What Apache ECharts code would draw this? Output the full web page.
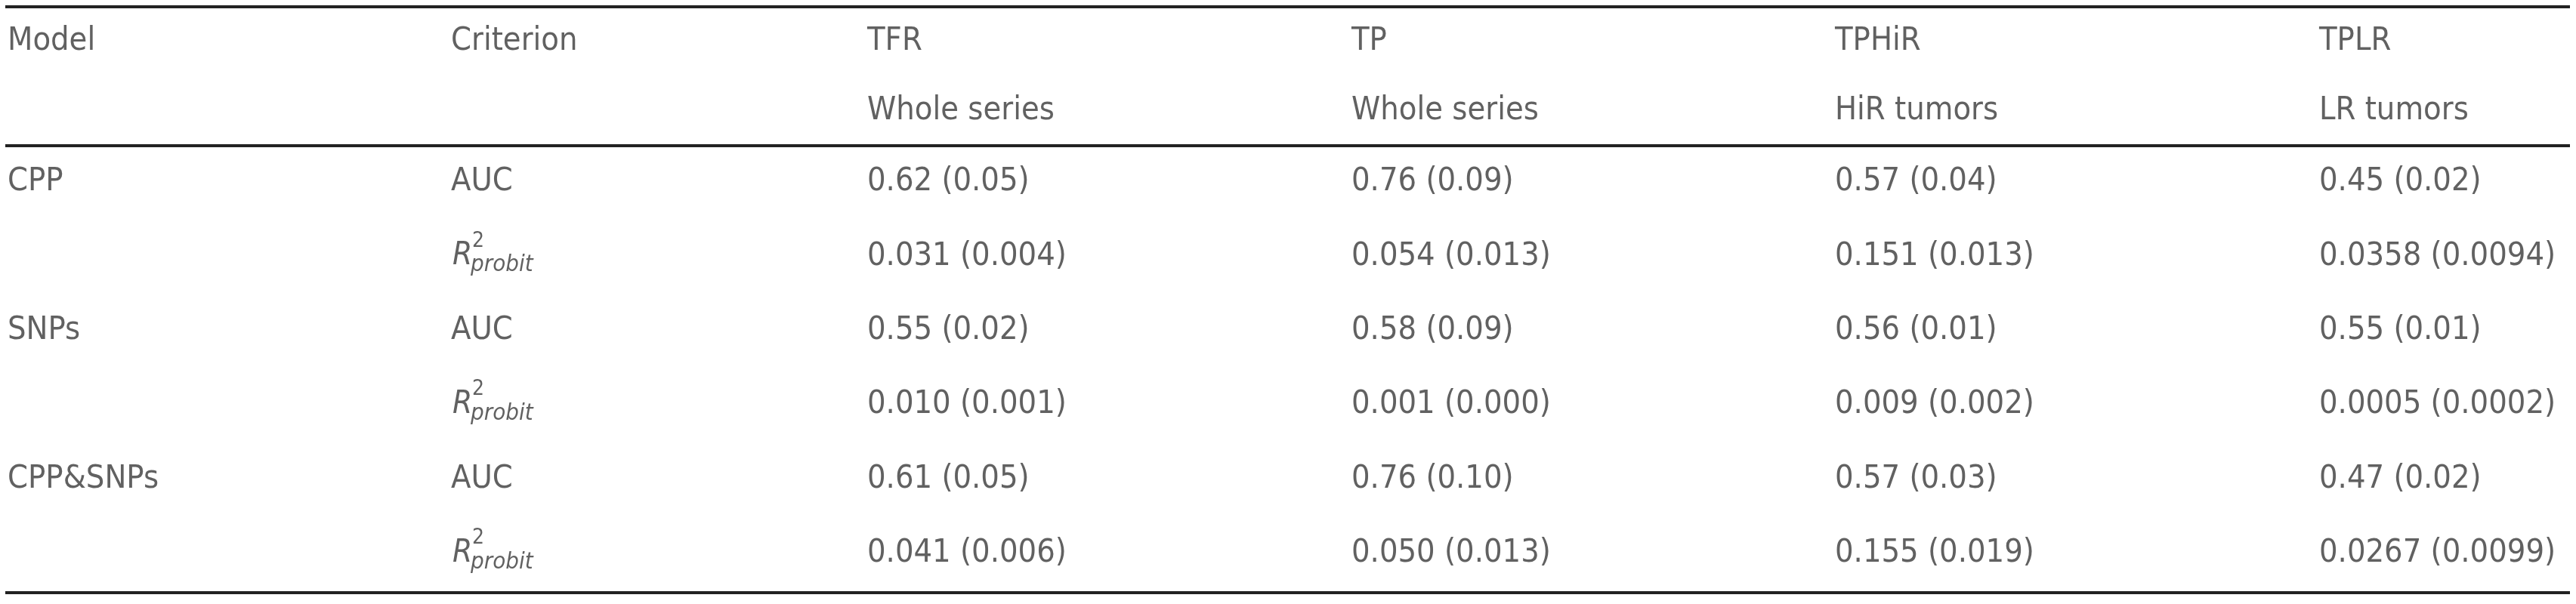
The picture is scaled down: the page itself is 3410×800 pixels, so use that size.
<!DOCTYPE html>
<html><head><meta charset="utf-8">
<script src="https://cdn.jsdelivr.net/npm/echarts@6/dist/echarts.min.js"></script>
<style>html,body{margin:0;padding:0;background:#fff}#c{width:3410px;height:800px}</style>
</head><body><div id="c"></div>
<script>
// ---- data ----
const columns = ['Model', 'Criterion', 'TFR', 'TP', 'TPHiR', 'TPLR'];
const subHeader = ['', '', 'Whole series', 'Whole series', 'HiR tumors', 'LR tumors'];
const models = ['CPP', '', 'SNPs', '', 'CPP&SNPs', ''];
const criteria = ['AUC', 'R2', 'AUC', 'R2', 'AUC', 'R2'];
const tfr = ['0.62 (0.05)', '0.031 (0.004)', '0.55 (0.02)', '0.010 (0.001)', '0.61 (0.05)', '0.041 (0.006)'];
const tp = ['0.76 (0.09)', '0.054 (0.013)', '0.58 (0.09)', '0.001 (0.000)', '0.76 (0.10)', '0.050 (0.013)'];
const tphir = ['0.57 (0.04)', '0.151 (0.013)', '0.56 (0.01)', '0.009 (0.002)', '0.57 (0.03)', '0.155 (0.019)'];
const tplr = ['0.45 (0.02)', '0.0358 (0.0094)', '0.55 (0.01)', '0.0005 (0.0002)', '0.47 (0.02)', '0.0267 (0.0099)'];
const headerRows = ['h1', 'h2'];
const bodyRows = ['r0', 'r1', 'r2', 'r3', 'r4', 'r5'];

// ---- style ----
const FONT = '"DejaVu Sans Condensed","DejaVu Sans",sans-serif';
const COLOR = '#3a3a3a';
const colShift = [0, -25, -86, -57, -29, 0];

const chart = echarts.init(document.getElementById('c'));
const bodyCols = [models, criteria, tfr, tp, tphir, tplr];

function lbl(ci) {
  return { show: true, position: 'right', distance: 0, offset: [colShift[ci], 0],
    color: COLOR, fontFamily: FONT, fontSize: 43, formatter: p => p.data[2] };
}
const series = [];
[columns, subHeader].forEach((row, ri) => {
  columns.forEach((c, ci) => {
    if (!row[ci]) return;
    series.push({ type: 'scatter', xAxisIndex: 0, yAxisIndex: 0, symbolSize: 0,
      data: [[c, headerRows[ri], row[ci]]], label: lbl(ci), silent: true });
  });
});
bodyCols.forEach((col, ci) => {
  const normal = [], r2 = [];
  col.forEach((v, ri) => {
    if (!v) return;
    if (ci === 1 && v === 'R2') r2.push([columns[ci], bodyRows[ri], v]);
    else normal.push([columns[ci], bodyRows[ri], v]);
  });
  series.push({ type: 'scatter', xAxisIndex: 1, yAxisIndex: 1, symbolSize: 0, data: normal, label: lbl(ci), silent: true });
  if (r2.length) {
    series.push({ type: 'scatter', xAxisIndex: 1, yAxisIndex: 1, symbolSize: 0, data: r2, silent: true,
      label: { show: true, position: 'right', distance: 0, offset: [colShift[ci] + 2, 0],
        color: COLOR, fontFamily: FONT, fontSize: 42, fontStyle: 'italic', formatter: 'R' } });
    series.push({ type: 'scatter', xAxisIndex: 1, yAxisIndex: 1, symbolSize: 0, data: r2, silent: true,
      label: { show: true, position: 'right', distance: 0, offset: [colShift[ci] + 28, -20],
        color: COLOR, fontFamily: FONT, fontSize: 28, formatter: '2' } });
    series.push({ type: 'scatter', xAxisIndex: 1, yAxisIndex: 1, symbolSize: 0, data: r2, silent: true,
      label: { show: true, position: 'right', distance: 0, offset: [colShift[ci] + 26, 12],
        color: COLOR, fontFamily: FONT, fontSize: 31, fontStyle: 'italic', formatter: 'probit' } });
  }
});

const hidden = { show: false };
chart.setOption({
  animation: false,
  grid: [
    { left: 10, right: 340, top: 55, height: 92 },
    { left: 10, right: 340, top: 241, height: 492 }
  ],
  xAxis: [
    { type: 'category', gridIndex: 0, data: columns, boundaryGap: false, axisLine: hidden, axisTick: hidden, axisLabel: hidden, splitLine: hidden },
    { type: 'category', gridIndex: 1, data: columns, boundaryGap: false, axisLine: hidden, axisTick: hidden, axisLabel: hidden, splitLine: hidden }
  ],
  yAxis: [
    { type: 'category', gridIndex: 0, data: headerRows, inverse: true, boundaryGap: false, axisLine: hidden, axisTick: hidden, axisLabel: hidden, splitLine: hidden },
    { type: 'category', gridIndex: 1, data: bodyRows, inverse: true, boundaryGap: false, axisLine: hidden, axisTick: hidden, axisLabel: hidden, splitLine: hidden }
  ],
  graphic: [9, 193, 785].map(y => ({ type: 'line', shape: { x1: 7, y1: y, x2: 3402, y2: y }, style: { stroke: '#222', lineWidth: 4 } })),
  series
});
</script></body></html>
